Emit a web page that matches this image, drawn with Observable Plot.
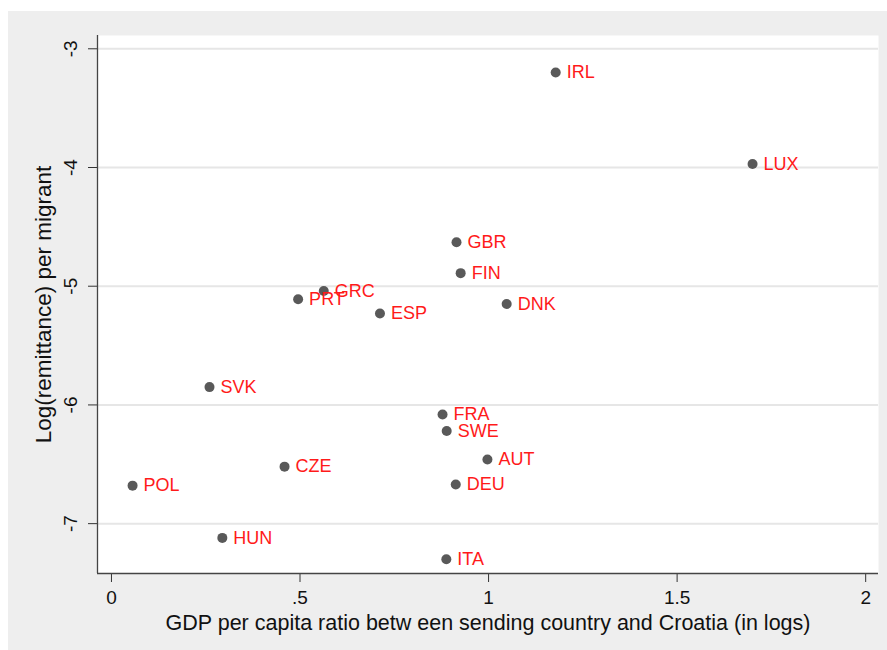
<!DOCTYPE html>
<html>
<head>
<meta charset="utf-8">
<script src="https://cdn.jsdelivr.net/npm/d3@7"></script>
<script src="https://cdn.jsdelivr.net/npm/@observablehq/plot@0.6"></script>
<style>
  html, body { margin: 0; padding: 0; background: #ffffff; }
  #wrap { position: relative; width: 887px; height: 650px; overflow: hidden; }
  #bg { position: absolute; left: 8px; top: 11px; right: 0; bottom: 0; background: #eeeeee; }
  #chart { position: absolute; left: 0; top: 0; }
  #chart svg { background: transparent !important; }
</style>
</head>
<body>
<div id="wrap"><div id="bg"></div><div id="chart"></div></div>
<script>
const countries = ["IRL","LUX","GBR","FIN","DNK","GRC","PRT","ESP","SVK","FRA","SWE","AUT","DEU","ITA","CZE","POL","HUN"];
const gdpRatio  = [1.178, 1.700, 0.915, 0.926, 1.048, 0.563, 0.495, 0.712, 0.260, 0.878, 0.889, 0.997, 0.913, 0.888, 0.459, 0.056, 0.294];
const logRemit  = [-3.20, -3.97, -4.63, -4.89, -5.15, -5.04, -5.11, -5.23, -5.85, -6.08, -6.22, -6.46, -6.67, -7.30, -6.52, -6.68, -7.12];
const xTicks = [0, 0.5, 1, 1.5, 2];
const xTickLabels = ["0", ".5", "1", "1.5", "2"];
const yTicks = [-3, -4, -5, -6, -7];
const yTickLabels = ["-3", "-4", "-5", "-6", "-7"];
const xTitle = "GDP per capita ratio betw een sending country and Croatia (in logs)";
const yTitle = "Log(remittance) per migrant";

const data = countries.map((c, i) => ({country: c, x: gdpRatio[i], y: logRemit[i]}));
const font = "'Liberation Sans', Arial, sans-serif";

const chart = Plot.plot({
  width: 887,
  height: 650,
  marginLeft: 97,
  marginRight: 9,
  marginTop: 35,
  marginBottom: 77,
  style: {fontFamily: font, background: "transparent", overflow: "visible"},
  x: {domain: [-0.037, 2.034]},
  y: {domain: [-7.42, -2.888]},
  marks: [
    Plot.frame({fill: "white", stroke: null}),
    Plot.gridY(yTicks, {stroke: "#e6e6e6", strokeOpacity: 1, strokeWidth: 2}),
    Plot.axisX(xTicks, {
      tickSize: 9, tickPadding: 8, fontSize: 19, stroke: "#333", fill: "#111",
      tickFormat: (d) => xTickLabels[xTicks.indexOf(d)],
      label: null
    }),
    Plot.axisY(yTicks, {
      tickSize: 9, tickPadding: 12, fontSize: 19, stroke: "#333", fill: "#111", tickRotate: -90,
      tickFormat: (d) => yTickLabels[yTicks.indexOf(d)],
      label: null
    }),
    Plot.axisX([], {label: xTitle, labelAnchor: "center", labelArrow: "none", labelOffset: 56, fontSize: 21.5, fill: "#111"}),
    Plot.axisY([], {label: yTitle, labelAnchor: "center", labelArrow: "none", labelOffset: 62, fontSize: 22.5, fill: "#111"}),
    Plot.ruleX([-0.037], {stroke: "#444", strokeWidth: 1.3}),
    Plot.ruleY([-7.42], {stroke: "#444", strokeWidth: 1.3}),
    Plot.dot(data, {x: "x", y: "y", r: 5, fill: "#595959", stroke: null}),
    Plot.text(data, {x: "x", y: "y", text: "country", fill: "#ff1a1a", fontSize: 18, textAnchor: "start", dx: 11})
  ]
});
document.getElementById("chart").appendChild(chart);
</script>
</body>
</html>
